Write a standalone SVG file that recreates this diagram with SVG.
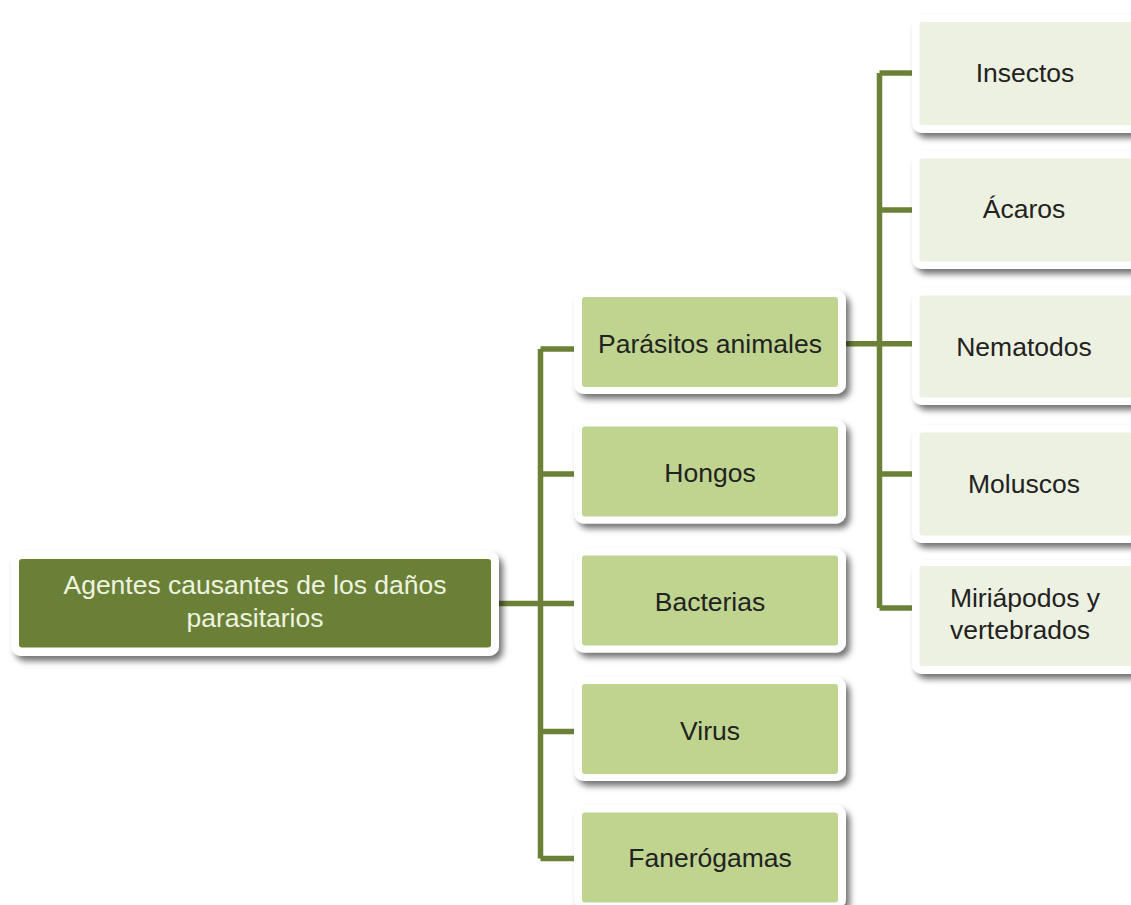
<svg xmlns="http://www.w3.org/2000/svg" width="1131" height="905" viewBox="0 0 1131 905">
<defs>
<filter id="sh" x="-10%" y="-20%" width="125%" height="150%">
<feDropShadow dx="4" dy="5" stdDeviation="3" flood-color="#000" flood-opacity="0.55"/>
</filter>
<style>
.outer{fill:#ffffff;filter:url(#sh)}
.r{fill:#6b8037}
.l2{fill:#bfd48f}
.l3{fill:#edf1e1}
.t{font-family:"Liberation Sans",Arial,sans-serif;font-size:26.5px;text-anchor:middle;fill:#222}
.tw{fill:#eef3e0}
.c{fill:none;stroke:#6b8137;stroke-width:5.5}
</style>
</defs>
<rect width="1131" height="905" fill="#ffffff"/>
<g id="connectors">
<path class="c" d="M498 603.5H540.5M540.5 349V858.5M540.5 349H574M540.5 474H574M540.5 603.5H574M540.5 731.5H574M540.5 858.5H574"/>
<path class="c" d="M846 343.7H879.5M879.5 73V608M879.5 73H912M879.5 210H912M879.5 343.7H912M879.5 474H912M879.5 608H912"/>
</g>
<g id="root">
<rect class="outer" x="11" y="551" width="488" height="105" rx="10"/>
<rect class="r" x="19" y="559" width="472" height="88.5" rx="3"/>
<text class="t tw" x="255" y="594">Agentes causantes de los daños</text>
<text class="t tw" x="255" y="627">parasitarios</text>
</g>
<g id="parasitos">
<rect class="outer" x="574" y="290" width="272" height="104" rx="10"/>
<rect class="l2" x="582" y="297" width="256" height="90" rx="3"/>
<text class="t" x="710" y="353">Parásitos animales</text>
</g>
<g id="hongos">
<rect class="outer" x="574" y="419.5" width="272" height="104" rx="10"/>
<rect class="l2" x="582" y="426.5" width="256" height="90" rx="3"/>
<text class="t" x="710" y="482">Hongos</text>
</g>
<g id="bacterias">
<rect class="outer" x="574" y="548.5" width="272" height="104" rx="10"/>
<rect class="l2" x="582" y="555.5" width="256" height="90" rx="3"/>
<text class="t" x="710" y="611">Bacterias</text>
</g>
<g id="virus">
<rect class="outer" x="574" y="677" width="272" height="104" rx="10"/>
<rect class="l2" x="582" y="684" width="256" height="90" rx="3"/>
<text class="t" x="710" y="740">Virus</text>
</g>
<g id="fanerogamas">
<rect class="outer" x="574" y="805" width="272" height="104" rx="10"/>
<rect class="l2" x="582" y="812.5" width="256" height="90" rx="3"/>
<text class="t" x="710" y="867">Fanerógamas</text>
</g>
<g id="insectos">
<rect class="outer" x="912" y="15" width="240" height="118" rx="10"/>
<rect class="l3" x="919.5" y="22" width="230" height="103" rx="3"/>
<text class="t" x="1025" y="82">Insectos</text>
</g>
<g id="acaros">
<rect class="outer" x="912" y="151" width="240" height="118" rx="10"/>
<rect class="l3" x="919.5" y="158.5" width="230" height="103" rx="3"/>
<text class="t" x="1024" y="218">Ácaros</text>
</g>
<g id="nematodos">
<rect class="outer" x="912" y="288" width="240" height="117" rx="10"/>
<rect class="l3" x="919.5" y="295.5" width="230" height="102" rx="3"/>
<text class="t" x="1024" y="356">Nematodos</text>
</g>
<g id="moluscos">
<rect class="outer" x="912" y="425" width="240" height="118" rx="10"/>
<rect class="l3" x="919.5" y="432.5" width="230" height="103" rx="3"/>
<text class="t" x="1024" y="493">Moluscos</text>
</g>
<g id="miriapodos">
<rect class="outer" x="912" y="560" width="240" height="114" rx="10"/>
<rect class="l3" x="919.5" y="566" width="230" height="100" rx="3"/>
<text class="t" x="1025" y="607">Miriápodos y</text>
<text class="t" x="1020" y="639">vertebrados</text>
</g>
</svg>
